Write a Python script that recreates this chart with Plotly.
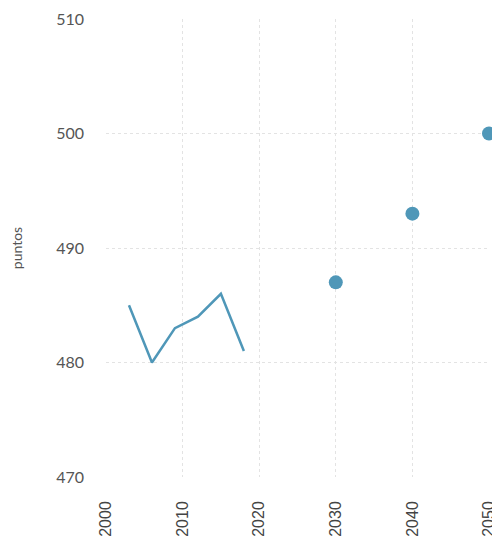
import plotly.graph_objects as go

hist_years = [2003, 2006, 2009, 2012, 2015, 2018]
hist_values = [485, 480, 483, 484, 486, 481]
proj_years = [2030, 2040, 2050]
proj_values = [487, 493, 500]
x_ticks = [2000, 2010, 2020, 2030, 2040, 2050]
y_ticks = [470, 480, 490, 500, 510]

color = "#4f97b8"

fig = go.Figure()
fig.add_trace(go.Scatter(x=hist_years, y=hist_values, mode="lines",
                         line=dict(color=color, width=2.5), showlegend=False,
                         cliponaxis=False))
fig.add_trace(go.Scatter(x=proj_years, y=proj_values, mode="markers",
                         marker=dict(color=color, size=14), showlegend=False,
                         cliponaxis=False))

grid = dict(showgrid=True, gridcolor="#e3e3e3", griddash="dot", gridwidth=1,
            zeroline=False, showline=False, ticks="", automargin=False)

fig.update_layout(
    width=492, height=528,
    margin=dict(l=98, r=11, t=11, b=59),
    plot_bgcolor="white", paper_bgcolor="white",
    xaxis=dict(range=[2000, 2050], tickvals=x_ticks, tickangle=-90,
               tickfont=dict(family="Liberation Sans", size=16, color="#444"),
               ticklabelstandoff=20,
               **grid),
    yaxis=dict(range=[470, 510], tickvals=y_ticks,
               tickfont=dict(family="Lato", size=16, color="#555"),
               ticklabelstandoff=21,
               title=dict(text="puntos", font=dict(family="Lato", size=14, color="#555"),
                          standoff=30),
               **grid),
)

fig.write_html("out.html")
